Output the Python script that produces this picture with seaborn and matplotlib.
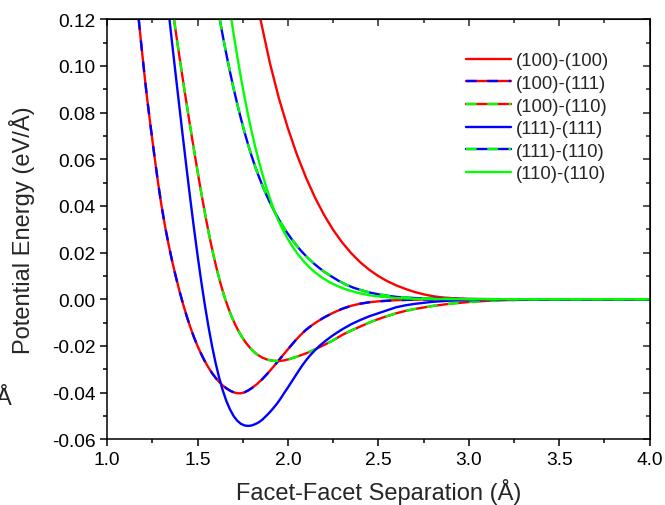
import pandas as pd
import matplotlib
matplotlib.use("Agg")
import matplotlib.pyplot as plt
from matplotlib.ticker import MultipleLocator, FormatStrFormatter
from matplotlib.legend_handler import HandlerTuple
import seaborn as sns

# ----------------------------
# Data
# ----------------------------
x_100_100 = [1.848, 1.90, 1.95, 2.00, 2.05, 2.10, 2.15, 2.20, 2.25, 2.30, 2.35, 2.40, 2.45, 2.50,
             2.55, 2.60, 2.65, 2.70, 2.75, 2.80, 2.85, 2.90, 3.00, 3.20, 4.00]
y_100_100 = [0.1200, 0.1013, 0.0861, 0.0732, 0.0619, 0.0521, 0.0435, 0.0361, 0.0297, 0.0243, 0.0197,
             0.0158, 0.0126, 0.0099, 0.0077, 0.0059, 0.0044, 0.0031, 0.0021, 0.0013, 0.0008, 0.0005,
             0.0001, 0.0, 0.0]

x_100_111 = [1.175, 1.19, 1.205, 1.22, 1.24, 1.26, 1.28, 1.30, 1.32, 1.34, 1.36, 1.38, 1.40, 1.42,
             1.44, 1.46, 1.48, 1.50, 1.52, 1.54, 1.56, 1.58, 1.60, 1.62, 1.64, 1.66, 1.68, 1.70, 1.72,
             1.74, 1.76, 1.78, 1.80, 1.83, 1.86, 1.89, 1.92, 1.95, 1.98, 2.01, 2.04, 2.07, 2.10, 2.13,
             2.16, 2.20, 2.25, 2.30, 2.35, 2.40, 2.45, 2.50, 2.60, 2.75, 3.00, 4.00]
y_100_111 = [0.1200, 0.1085, 0.0975, 0.0870, 0.0745, 0.0625, 0.0510, 0.0405, 0.0315, 0.0235, 0.0163,
             0.0097, 0.0036, -0.0020, -0.0072, -0.0119, -0.0162, -0.0200, -0.0234, -0.0265, -0.0292,
             -0.0316, -0.0337, -0.0355, -0.0370, -0.0382, -0.0392, -0.0399, -0.0403, -0.0403, -0.0399,
             -0.0391, -0.0381, -0.0363, -0.0341, -0.0316, -0.0289, -0.0261, -0.0233, -0.0205, -0.0178,
             -0.0153, -0.0131, -0.0113, -0.0097, -0.0078, -0.0058, -0.0041, -0.0028, -0.0019, -0.0013,
             -0.0009, -0.0004, -0.0001, 0.0, 0.0]

x_100_110 = [1.370, 1.39, 1.41, 1.43, 1.45, 1.47, 1.49, 1.51, 1.53, 1.55, 1.57, 1.59, 1.61, 1.63,
             1.65, 1.67, 1.69, 1.71, 1.73, 1.75, 1.77, 1.79, 1.81, 1.83, 1.86, 1.89, 1.92, 1.95, 1.98,
             2.01, 2.05, 2.10, 2.15, 2.20, 2.25, 2.30, 2.35, 2.40, 2.45, 2.50, 2.55, 2.60, 2.65, 2.70,
             2.80, 2.90, 3.00, 3.10, 3.20, 3.40, 4.00]
y_100_110 = [0.1200, 0.1092, 0.0988, 0.0886, 0.0787, 0.0690, 0.0596, 0.0504, 0.0416, 0.0332, 0.0254,
             0.0183, 0.0118, 0.0060, 0.0008, -0.0037, -0.0077, -0.0111, -0.0141, -0.0167, -0.0189,
             -0.0208, -0.0224, -0.0237, -0.0251, -0.0260, -0.0264, -0.0265, -0.0262, -0.0256, -0.0246,
             -0.0232, -0.0215, -0.0196, -0.0176, -0.0153, -0.0134, -0.0117, -0.0100, -0.0085, -0.0072,
             -0.0060, -0.0050, -0.0042, -0.0029, -0.0019, -0.0012, -0.0007, -0.0004, -0.0001, 0.0]

x_111_111 = [1.345, 1.36, 1.38, 1.40, 1.42, 1.44, 1.46, 1.48, 1.50, 1.52, 1.54, 1.56, 1.58, 1.60,
             1.62, 1.64, 1.66, 1.68, 1.70, 1.72, 1.74, 1.76, 1.78, 1.80, 1.82, 1.84, 1.86, 1.88, 1.90,
             1.92, 1.94, 1.96, 1.98, 2.00, 2.02, 2.04, 2.06, 2.08, 2.10, 2.12, 2.15, 2.18, 2.21, 2.25,
             2.30, 2.35, 2.40, 2.45, 2.50, 2.55, 2.60, 2.65, 2.70, 2.80, 2.90, 3.00, 3.20, 4.00]
y_111_111 = [0.1200, 0.1095, 0.0958, 0.0823, 0.0690, 0.0558, 0.0430, 0.0307, 0.0190, 0.0080, -0.0022,
             -0.0115, -0.0199, -0.0273, -0.0337, -0.0392, -0.0437, -0.0473, -0.0501, -0.0521, -0.0534,
             -0.0541, -0.0543, -0.0541, -0.0535, -0.0527, -0.0515, -0.0500, -0.0484, -0.0466, -0.0447,
             -0.0425, -0.0401, -0.0378, -0.0354, -0.0330, -0.0306, -0.0283, -0.0262, -0.0243, -0.0218,
             -0.0196, -0.0177, -0.0154, -0.0129, -0.0107, -0.0089, -0.0073, -0.0060, -0.0047, -0.0034,
             -0.0026, -0.0020, -0.0011, -0.0006, -0.0004, -0.0001, 0.0]

x_111_110 = [1.623, 1.64, 1.66, 1.68, 1.70, 1.72, 1.74, 1.76, 1.78, 1.80, 1.82, 1.84, 1.86, 1.88,
             1.90, 1.93, 1.96, 1.99, 2.02, 2.05, 2.08, 2.11, 2.14, 2.17, 2.20, 2.24, 2.28, 2.32, 2.36,
             2.40, 2.45, 2.50, 2.55, 2.60, 2.70, 2.80, 2.95, 3.20, 4.00]
y_111_110 = [0.1200, 0.1128, 0.1048, 0.0973, 0.0902, 0.0836, 0.0774, 0.0716, 0.0662, 0.0612, 0.0566,
             0.0524, 0.0485, 0.0449, 0.0415, 0.0369, 0.0328, 0.0291, 0.0258, 0.0228, 0.0201, 0.0177,
             0.0155, 0.0136, 0.0118, 0.0098, 0.0079, 0.0063, 0.0050, 0.0040, 0.0029, 0.0021, 0.0015,
             0.0010, 0.0005, 0.0003, 0.0001, 0.0, 0.0]

x_110_110 = [1.687, 1.70, 1.72, 1.74, 1.76, 1.78, 1.80, 1.82, 1.84, 1.86, 1.88, 1.90, 1.92, 1.94,
             1.97, 2.00, 2.03, 2.06, 2.09, 2.12, 2.15, 2.19, 2.23, 2.27, 2.31, 2.35, 2.40, 2.45, 2.50,
             2.60, 2.70, 2.85, 3.00, 4.00]
y_110_110 = [0.1200, 0.1135, 0.1040, 0.0950, 0.0866, 0.0788, 0.0716, 0.0650, 0.0589, 0.0533, 0.0481,
             0.0433, 0.0389, 0.0349, 0.0300, 0.0257, 0.0220, 0.0188, 0.0160, 0.0136, 0.0115, 0.0092,
             0.0073, 0.0058, 0.0045, 0.0035, 0.0025, 0.0017, 0.0012, 0.0005, 0.0002, 0.0001, 0.0, 0.0]

labels = ['(100)-(100)', '(100)-(111)', '(100)-(110)', '(111)-(111)', '(111)-(110)', '(110)-(110)']

RED, BLUE, GREEN = '#ff0000', '#0000ff', '#00ff00'

# ----------------------------
# Style
# ----------------------------
sns.set_style('ticks')
plt.rcParams['font.family'] = ['Liberation Sans', 'DejaVu Sans']
plt.rcParams['axes.unicode_minus'] = False

fig = plt.figure(figsize=(6.65, 5.06), dpi=100)
ax = fig.add_axes([0.161, 0.130, 0.816, 0.830])

LW = 1.7
DASH = (0, (4.5, 4.5))


def curve(x, y, color, ls='-'):
    sns.lineplot(x=x, y=y, ax=ax, color=color, linewidth=LW, linestyle=ls, sort=False)
    return ax.lines[-1]


h1 = curve(x_100_100, y_100_100, RED)
h2a = curve(x_100_111, y_100_111, RED)
h2b = curve(x_100_111, y_100_111, BLUE, DASH)
h3a = curve(x_100_110, y_100_110, RED)
h3b = curve(x_100_110, y_100_110, GREEN, DASH)
h4 = curve(x_111_111, y_111_111, BLUE)
h5a = curve(x_111_110, y_111_110, BLUE)
h5b = curve(x_111_110, y_111_110, GREEN, DASH)
h6 = curve(x_110_110, y_110_110, GREEN)

ax.set_xlim(1.0, 4.0)
ax.set_ylim(-0.06, 0.12)
ax.xaxis.set_major_locator(MultipleLocator(0.5))
ax.xaxis.set_minor_locator(MultipleLocator(0.25))
ax.yaxis.set_major_locator(MultipleLocator(0.02))
ax.yaxis.set_minor_locator(MultipleLocator(0.01))
ax.xaxis.set_major_formatter(FormatStrFormatter('%.1f'))
ax.yaxis.set_major_formatter(FormatStrFormatter('%.2f'))

for s in ax.spines.values():
    s.set_color('black')
    s.set_linewidth(1.1)

ax.tick_params(which='both', direction='out', colors='black', width=1.1, labelsize=13.8)
ax.tick_params(which='major', length=5)
ax.tick_params(which='minor', length=3)

# mirrored inward ticks on top and right
top = ax.secondary_xaxis('top')
top.xaxis.set_major_locator(MultipleLocator(0.5))
top.xaxis.set_minor_locator(MultipleLocator(0.25))
top.tick_params(which='both', direction='in', labeltop=False, width=1.1)
top.tick_params(which='major', length=5)
top.tick_params(which='minor', length=3)
right = ax.secondary_yaxis('right')
right.yaxis.set_major_locator(MultipleLocator(0.02))
right.yaxis.set_minor_locator(MultipleLocator(0.01))
right.tick_params(which='both', direction='in', labelright=False, width=1.1)
right.tick_params(which='major', length=5)
right.tick_params(which='minor', length=3)

ax.set_xlabel('Facet-Facet Separation (Å)', fontsize=17, labelpad=7)
ax.set_ylabel('Potential Energy (eV/Å)', fontsize=17, labelpad=12)

# two-colour dashed entries: solid base with dashes overlaid
handles = [h1, (h2a, h2b), (h3a, h3b), h4, (h5a, h5b), h6]
ax.legend(handles, labels, handler_map={tuple: HandlerTuple(ndivide=1, pad=0)},
          loc='upper left', bbox_to_anchor=(0.662, 0.921), frameon=False, fontsize=13.3,
          handlelength=2.4, handletextpad=0.3, labelspacing=0.3, borderpad=0, borderaxespad=0)

# clipped stray label at the left edge of the reference
fig.text(-0.006, 0.2, 'Å', fontsize=17)

fig.savefig('out.png', dpi=100)
